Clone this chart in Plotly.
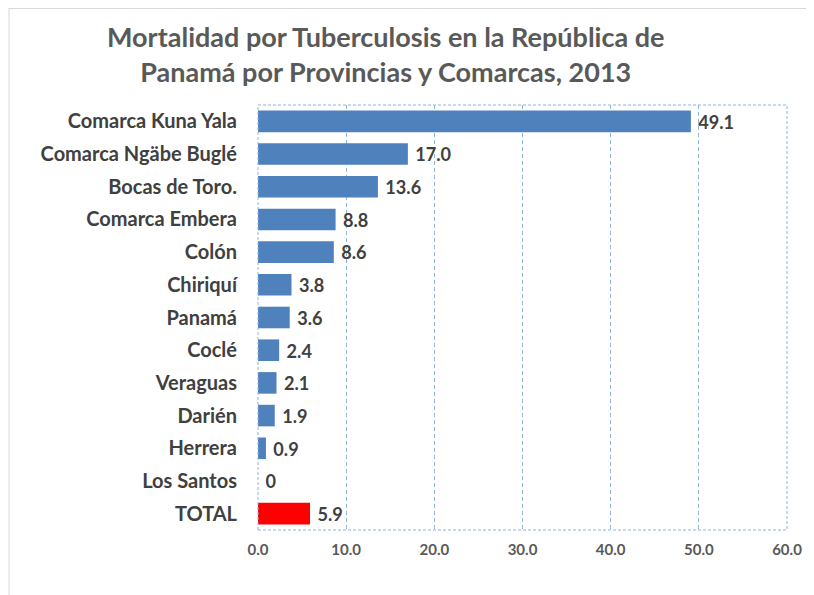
import plotly.graph_objects as go

categories = ["Comarca Kuna Yala", "Comarca Ngäbe Buglé", "Bocas de Toro.", "Comarca Embera",
              "Colón", "Chiriquí", "Panamá", "Coclé", "Veraguas", "Darién", "Herrera",
              "Los Santos", "TOTAL"]
values = [49.1, 17.0, 13.6, 8.8, 8.6, 3.8, 3.6, 2.4, 2.1, 1.9, 0.9, 0, 5.9]
labels = ["49.1", "17.0", "13.6", "8.8", "8.6", "3.8", "3.6", "2.4", "2.1", "1.9", "0.9", "0", "5.9"]
tick_vals = [0, 10, 20, 30, 40, 50, 60]
tick_text = ["0.0", "10.0", "20.0", "30.0", "40.0", "50.0", "60.0"]
title_text = "<b>Mortalidad por Tuberculosis en la República de<br>Panamá por Provincias y Comarcas, 2013</b>"

colors = ["#4F81BD"] * (len(categories) - 1) + ["#FF0000"]
FONT = "Lato, 'Open Sans', sans-serif"

W, H = 806, 587
L, R, T, B = 250, 27, 97, 65
pw, ph = W - L - R, H - T - B

fig = go.Figure()
fig.add_trace(go.Bar(
    y=categories, x=values, orientation="h",
    marker=dict(color=colors, line=dict(width=0)),
    width=0.66,
    text=labels, texttemplate=" %{text}", textposition="outside", cliponaxis=False,
    textfont=dict(family=FONT, size=21, color="#404040", weight="bold"),
))

fig.update_layout(
    width=W, height=H,
    margin=dict(l=L, r=R, t=T, b=B, autoexpand=False),
    paper_bgcolor="white", plot_bgcolor="white",
    showlegend=False,
)
fig.add_annotation(
    text=title_text, xref="paper", yref="paper",
    x=(377 - L) / pw, y=1 + (T - 46) / ph, xanchor="center", yanchor="middle",
    showarrow=False, align="center",
    font=dict(family=FONT, size=27, color="#595959"),
)
fig.update_xaxes(
    range=[0, 60], tickvals=tick_vals, ticktext=tick_text,
    showgrid=True, gridcolor="#8EB4E3", griddash="4px,3px", gridwidth=1,
    zeroline=False, showline=False,
    tickfont=dict(family=FONT, size=15, color="#595959", weight="bold"),
    ticks="", ticklabelstandoff=9,
)
fig.update_yaxes(
    autorange="reversed", showline=False,
    tickfont=dict(family=FONT, size=20, color="#404040", weight="bold"),
    ticks="", ticklabelstandoff=20,
)
# dashed plot border
fig.add_shape(type="rect", xref="paper", yref="paper", x0=0, x1=1, y0=0, y1=1,
              line=dict(color="#8EB4E3", width=1, dash="3px,2px"))
# light gray frame around the image
fig.add_shape(type="line", xref="paper", yref="paper",
              x0=(1 - L) / pw, x1=(W - L) / pw, y0=1 + (T - 0.5) / ph, y1=1 + (T - 0.5) / ph,
              line=dict(color="#D9D9D9", width=1))
fig.add_shape(type="line", xref="paper", yref="paper",
              x0=(1 - L) / pw, x1=(1 - L) / pw, y0=1 + T / ph, y1=-B / ph,
              line=dict(color="#D9D9D9", width=1))

fig.write_html("out.html")
